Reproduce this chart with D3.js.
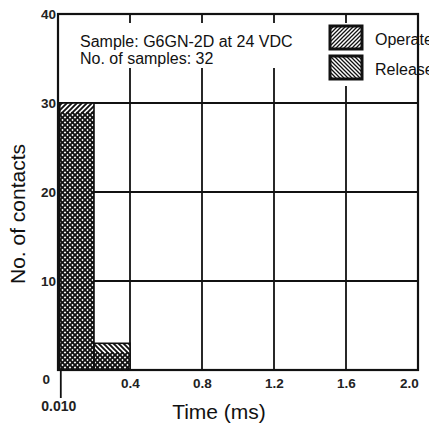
<!DOCTYPE html>
<html>
<head>
<meta charset="utf-8">
<script src="https://cdn.jsdelivr.net/npm/d3@7"></script>
<style>
  body { margin: 0; background: #fff; }
  svg { display: block; font-family: "Liberation Sans", Arial, Helvetica, sans-serif; }
</style>
</head>
<body>
<script>
// histogram bins (ms) and counts per series
const binStarts = [0.01, 0.2];
const binEnds = [0.2, 0.4];
const operateCounts = [30, 2];
const releaseCounts = [29, 3];

const xTicks = [0.4, 0.8, 1.2, 1.6, 2.0];
const yTicks = [0, 10, 20, 30, 40];
const xGrid = [0.4, 0.8, 1.2, 1.6];
const yGrid = [10, 20, 30];

const noteLines = ["Sample: G6GN-2D at 24 VDC", "No. of samples: 32"];
const legendNames = ["Operate", "Release"];

const width = 429, height = 430;
const margin = {top: 14, right: 11, bottom: 60, left: 58};

const svg = d3.select("body").append("svg")
  .attr("width", width)
  .attr("height", height);

svg.append("rect").attr("width", width).attr("height", height).attr("fill", "#fff");

// hatch patterns: "/" for operate, "\" for release
const defs = svg.append("defs");
function hatch(id, d, size, sw) {
  defs.append("pattern")
    .attr("id", id)
    .attr("patternUnits", "userSpaceOnUse")
    .attr("width", size).attr("height", size)
    .append("path")
    .attr("d", d)
    .attr("stroke", "#111")
    .attr("stroke-width", sw)
    .attr("fill", "none");
}
hatch("op", "M-1,1 l2,-2 M0,5 l5,-5 M4,6 l2,-2", 5, 1.9);
hatch("rel", "M-1,4 l2,2 M0,0 l5,5 M4,-1 l2,2", 5, 1.9);
hatch("opL", "M-1,1 l2,-2 M0,4 l4,-4 M3,5 l2,-2", 4, 1.3);
hatch("relL", "M-1,3 l2,2 M0,0 l4,4 M3,-1 l2,2", 4, 1.3);

const x = d3.scaleLinear()
  .domain([0, 2.0])
  .range([margin.left, width - margin.right]);

const y = d3.scaleLinear()
  .domain([0, 40])
  .range([height - margin.bottom, margin.top]);

// grid lines
svg.append("g")
  .selectAll("line")
  .data(xGrid)
  .join("line")
  .attr("x1", d => x(d)).attr("x2", d => x(d))
  .attr("y1", y(40)).attr("y2", y(0))
  .attr("stroke", "#111").attr("stroke-width", 1.8);

svg.append("g")
  .selectAll("line")
  .data(yGrid)
  .join("line")
  .attr("x1", x(0)).attr("x2", x(2.0))
  .attr("y1", d => y(d)).attr("y2", d => y(d))
  .attr("stroke", "#111").attr("stroke-width", 1.8);

// white boxes behind the note and the legend
svg.append("rect")
  .attr("x", 74).attr("y", 23).attr("width", 226).attr("height", 45)
  .attr("fill", "#fff");
svg.append("rect")
  .attr("x", 322).attr("y", 23).attr("width", 94).attr("height", 63)
  .attr("fill", "#fff");

// bars
const bins = binStarts.map((s, i) => ({s, e: binEnds[i], op: operateCounts[i], rel: releaseCounts[i]}));

const bars = svg.append("g");
bars.selectAll("rect.bg")
  .data(bins)
  .join("rect")
  .attr("class", "bg")
  .attr("x", d => x(d.s))
  .attr("width", d => x(d.e) - x(d.s))
  .attr("y", d => y(Math.max(d.op, d.rel)))
  .attr("height", d => y(0) - y(Math.max(d.op, d.rel)))
  .attr("fill", "#fff");

[["op", "op"], ["rel", "rel"]].forEach(([key, pat]) => {
  bars.append("g")
    .selectAll("rect")
    .data(bins)
    .join("rect")
    .attr("x", d => x(d.s))
    .attr("width", d => x(d.e) - x(d.s))
    .attr("y", d => y(d[key]))
    .attr("height", d => y(0) - y(d[key]))
    .attr("fill", `url(#${pat})`);
});

bars.selectAll("rect.outline")
  .data(bins)
  .join("rect")
  .attr("class", "outline")
  .attr("x", d => x(d.s))
  .attr("width", d => x(d.e) - x(d.s))
  .attr("y", d => y(Math.max(d.op, d.rel)))
  .attr("height", d => y(0) - y(Math.max(d.op, d.rel)))
  .attr("fill", "none")
  .attr("stroke", "#111")
  .attr("stroke-width", 1.6);

// frame
svg.append("rect")
  .attr("x", x(0)).attr("y", y(40))
  .attr("width", x(2.0) - x(0))
  .attr("height", y(0) - y(40))
  .attr("fill", "none")
  .attr("stroke", "#111")
  .attr("stroke-width", 2.2);

// axes
const xAxis = svg.append("g")
  .attr("transform", `translate(0,${y(0)})`)
  .call(d3.axisBottom(x).tickValues(xTicks).tickSize(0).tickPadding(8).tickFormat(d3.format(".1f")));
xAxis.select(".domain").remove();
xAxis.selectAll("text")
  .attr("font-size", 13.5).attr("font-weight", "bold").attr("fill", "#222")
  .attr("font-family", "Liberation Sans, Arial, sans-serif")
  .attr("dx", d => d === 2.0 ? -9 : 0);

const yAxis = svg.append("g")
  .attr("transform", `translate(${x(0)},0)`)
  .call(d3.axisLeft(y).tickValues(yTicks).tickSize(0).tickPadding(2));
yAxis.select(".domain").remove();
yAxis.selectAll("text")
  .attr("font-size", 13.5).attr("font-weight", "bold").attr("fill", "#222")
  .attr("font-family", "Liberation Sans, Arial, sans-serif")
  .attr("dx", d => d === 0 ? -6 : 0)
  .attr("dy", d => d === 0 ? "1.0em" : "0.32em");

// start tick at 0.010
svg.append("line")
  .attr("x1", x(binStarts[0]) + 1).attr("x2", x(binStarts[0]) + 1)
  .attr("y1", y(0)).attr("y2", y(0) + 28)
  .attr("stroke", "#111").attr("stroke-width", 1.8);
svg.append("text")
  .attr("x", x(binStarts[0]) - 1).attr("y", y(0) + 41)
  .attr("text-anchor", "middle")
  .attr("font-size", 14).attr("font-weight", "bold").attr("fill", "#222")
  .text(d3.format(".3f")(binStarts[0]));

// axis titles
svg.append("text")
  .attr("x", 219).attr("y", 419)
  .attr("text-anchor", "middle")
  .attr("font-size", 21).attr("fill", "#111")
  .text("Time (ms)");

svg.append("text")
  .attr("transform", "translate(25,214) rotate(-90)")
  .attr("text-anchor", "middle")
  .attr("font-size", 21).attr("fill", "#111")
  .text("No. of contacts");

// note
svg.append("g")
  .selectAll("text")
  .data(noteLines)
  .join("text")
  .attr("x", 80)
  .attr("y", (d, i) => 47 + i * 17)
  .attr("font-size", 16).attr("fill", "#111")
  .text(d => d);

// legend
const legend = svg.append("g")
  .selectAll("g")
  .data(legendNames)
  .join("g")
  .attr("transform", (d, i) => `translate(330,${26 + i * 30})`);
legend.append("rect")
  .attr("width", 32).attr("height", 23)
  .attr("fill", (d, i) => i === 0 ? "url(#opL)" : "url(#relL)")
  .attr("stroke", "#111").attr("stroke-width", 3);
legend.append("text")
  .attr("x", 45).attr("y", 19)
  .attr("font-size", 16).attr("fill", "#111")
  .text(d => d);
</script>
</body>
</html>
